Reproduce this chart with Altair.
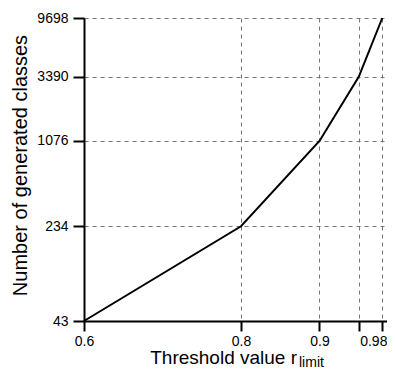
import altair as alt
import pandas as pd

thresholds = [0.6, 0.8, 0.9, 0.95, 0.98]
classes = [43, 234, 1076, 3390, 9698]
x_ticks = [0.6, 0.8, 0.9, 0.95, 0.98]
y_ticks = [43, 234, 1076, 3390, 9698]

df = pd.DataFrame({"r": thresholds, "n": classes})

FONT = "Liberation Sans"

base = alt.Chart(df)

line = base.mark_line(color="black", strokeWidth=2).encode(
    x=alt.X(
        "r:Q",
        scale=alt.Scale(domain=[0.6, 0.986], nice=False, zero=False),
        axis=alt.Axis(
            values=x_ticks,
            format=".2~f",
            labelExpr="datum.value == 0.95 ? '' : datum.label",
            labelOffset={"condition": {"test": "datum.value == 0.98", "value": -9}, "value": 0},
            title=None,
            grid=True,
            gridDash=[4, 4],
            gridColor="#777777",
            gridWidth=1,
            domainColor="black",
            domainWidth=2,
            tickColor="black",
            tickWidth=2,
            tickSize=10,
            labelFont=FONT,
            labelFontSize=14,
            labelColor="black",
            labelPadding=3,
            labelFlush=False,
            labelOverlap=False,
        ),
    ),
    y=alt.Y(
        "n:Q",
        scale=alt.Scale(type="log", domain=[43, 9698], nice=False),
        axis=alt.Axis(
            values=y_ticks,
            format="d",
            title="Number of generated classes",
            titleFont=FONT,
            titleFontSize=20,
            titleFontWeight="normal",
            titleColor="black",
            titlePadding=6,
            titleY=147,
            grid=True,
            gridDash=[4, 4],
            gridColor="#777777",
            gridWidth=1,
            domainColor="black",
            domainWidth=2,
            tickColor="black",
            tickWidth=2,
            tickSize=11,
            labelFont=FONT,
            labelFontSize=14,
            labelColor="black",
            labelPadding=5,
            labelFlush=False,
            labelOverlap=False,
        ),
    ),
)

title_main = alt.Chart(pd.DataFrame({"t": ["Threshold value r"]})).mark_text(
    align="right", baseline="alphabetic", font=FONT, fontSize=19, color="black"
).encode(text="t:N", x=alt.value(213), y=alt.value(346))

title_sub = alt.Chart(pd.DataFrame({"t": ["limit"]})).mark_text(
    align="left", baseline="alphabetic", font=FONT, fontSize=14, color="black"
).encode(text="t:N", x=alt.value(215), y=alt.value(349))

chart = (
    alt.layer(line, title_main, title_sub)
    .properties(
        width=303,
        height=303,
        autosize=alt.AutoSizeParams(type="none"),
        padding={"left": 76, "top": 10, "right": 0, "bottom": 50},
    )
    .configure_view(stroke=None)
)

chart.save("out.html", embed_options={"renderer": "svg", "actions": False})
